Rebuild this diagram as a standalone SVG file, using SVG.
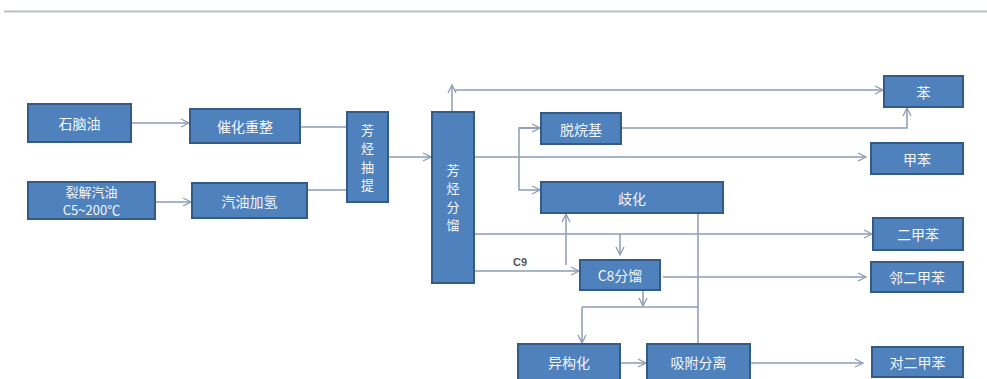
<svg xmlns="http://www.w3.org/2000/svg" width="987" height="379" viewBox="0 0 987 379">
<defs>
<style>
.box{fill:#4F81BD;stroke:#345A88;stroke-width:2}
.t{fill:#F4F7FB;font-family:"Noto Sans CJK SC","Liberation Sans",sans-serif;font-size:14px;text-anchor:middle;dominant-baseline:central}
.s{font-size:13px}
.c{fill:none;stroke:#8C9DB5;stroke-width:1.5}
.lbl{fill:#555;font-family:"Liberation Sans",sans-serif;font-size:11px;font-weight:bold;text-anchor:middle}
</style>
<marker id="ah" viewBox="0 0 10 10" refX="9" refY="5" markerWidth="10" markerHeight="10" markerUnits="userSpaceOnUse" orient="auto">
<path d="M1,1 L9,5 L1,9" fill="none" stroke="#8C9DB5" stroke-width="1.3"/>
</marker>
</defs>
<rect width="987" height="379" fill="#FFFFFF"/>
<line x1="4" y1="11.5" x2="987" y2="11.5" stroke="#B9C0C8" stroke-width="2"/>
<g id="connectors">
<line class="c" x1="131" y1="123" x2="189" y2="123" marker-end="url(#ah)"/>
<line class="c" x1="155" y1="202" x2="191" y2="202" marker-end="url(#ah)"/>
<line class="c" x1="300" y1="127" x2="347" y2="127"/>
<line class="c" x1="307" y1="190" x2="347" y2="190"/>
<line class="c" x1="388" y1="157" x2="431" y2="157" marker-end="url(#ah)"/>
<line class="c" x1="452" y1="112" x2="452" y2="85" marker-end="url(#ah)"/>
<line class="c" x1="455" y1="90" x2="883" y2="90" marker-end="url(#ah)"/>
<line class="c" x1="474" y1="157" x2="866" y2="157" marker-end="url(#ah)"/>
<polyline class="c" points="540,128 519,128 519,190 540,190" marker-end="url(#ah)"/>
<line class="c" x1="519" y1="128" x2="540" y2="128" marker-end="url(#ah)"/>
<polyline class="c" points="621,128 907,128 907,108" marker-end="url(#ah)"/>
<line class="c" x1="474" y1="234" x2="872" y2="234" marker-end="url(#ah)"/>
<line class="c" x1="620" y1="234" x2="620" y2="255" marker-end="url(#ah)"/>
<line class="c" x1="566" y1="265" x2="566" y2="214" marker-end="url(#ah)"/>
<line class="c" x1="474" y1="271" x2="579" y2="271" marker-end="url(#ah)"/>
<line class="c" x1="663" y1="277" x2="866" y2="277" marker-end="url(#ah)"/>
<line class="c" x1="643" y1="290" x2="643" y2="306" marker-end="url(#ah)"/>
<line class="c" x1="582" y1="307" x2="698" y2="307"/>
<line class="c" x1="582" y1="307" x2="582" y2="343" marker-end="url(#ah)"/>
<line class="c" x1="698" y1="213" x2="698" y2="344"/>
<line class="c" x1="620" y1="363" x2="646" y2="363" marker-end="url(#ah)"/>
<line class="c" x1="750" y1="363" x2="863" y2="363" marker-end="url(#ah)"/>
<text class="lbl" x="520" y="266">C9</text>
</g>
<g id="n-naphtha"><rect class="box" x="28" y="104" width="103" height="38"/><text class="t" x="79.5" y="123">石脑油</text></g>
<g id="n-reform"><rect class="box" x="190" y="109" width="110" height="34"/><text class="t" x="245" y="126">催化重整</text></g>
<g id="n-pygas"><rect class="box" x="28" y="182" width="127" height="37"/><text class="t s" x="91.5" y="191">裂解汽油</text><text class="t s" x="91.5" y="209.5">C5~200℃</text></g>
<g id="n-hydro"><rect class="box" x="192" y="183" width="115" height="35"/><text class="t" x="249.5" y="200.5">汽油加氢</text></g>
<g id="n-extract"><rect class="box" x="347" y="112" width="41" height="90"/><text class="t s" x="367.5" y="129">芳</text><text class="t s" x="367.5" y="147.5">烃</text><text class="t s" x="367.5" y="166">抽</text><text class="t s" x="367.5" y="184.5">提</text></g>
<g id="n-fract"><rect class="box" x="432" y="112" width="42" height="171"/><text class="t s" x="453" y="169">芳</text><text class="t s" x="453" y="187.5">烃</text><text class="t s" x="453" y="206">分</text><text class="t s" x="453" y="224.5">馏</text></g>
<g id="n-dealk"><rect class="box" x="541" y="113" width="80" height="31"/><text class="t" x="581" y="128.5">脱烷基</text></g>
<g id="n-disp"><rect class="box" x="541" y="182" width="182" height="31"/><text class="t" x="632" y="197.5">歧化</text></g>
<g id="n-c8"><rect class="box" x="580" y="260" width="80" height="30"/><text class="t" x="620" y="275">C8分馏</text></g>
<g id="n-isom"><rect class="box" x="518" y="344" width="102" height="40"/><text class="t" x="569" y="362">异构化</text></g>
<g id="n-adsorb"><rect class="box" x="647" y="344" width="103" height="40"/><text class="t" x="698.5" y="362">吸附分离</text></g>
<g id="n-benzene"><rect class="box" x="884" y="76" width="79" height="31"/><text class="t" x="923.5" y="91.5">苯</text></g>
<g id="n-toluene"><rect class="box" x="871" y="143" width="92" height="31"/><text class="t" x="917" y="158.5">甲苯</text></g>
<g id="n-xylene"><rect class="box" x="873" y="218" width="90" height="32"/><text class="t" x="918" y="234">二甲苯</text></g>
<g id="n-oxylene"><rect class="box" x="871" y="262" width="92" height="30"/><text class="t" x="917" y="277">邻二甲苯</text></g>
<g id="n-pxylene"><rect class="box" x="872" y="347" width="91" height="30"/><text class="t" x="917.5" y="362">对二甲苯</text></g>
</svg>
